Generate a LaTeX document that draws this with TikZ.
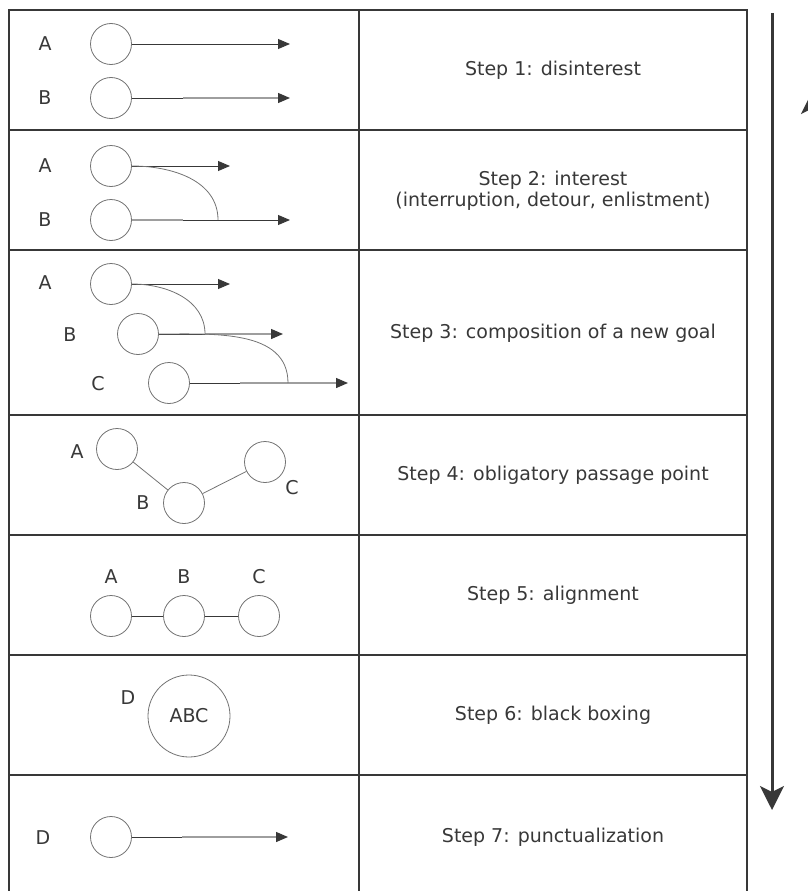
\documentclass[tikz,border=0pt]{standalone}
\usepackage{fontspec}
\setmainfont{DejaVu Sans}
\usepackage{xcolor}
\usepackage{tikz}
\usetikzlibrary{
	positioning,						% Advanced relative positioning
	arrows.meta							% Advanced arrows
}
\definecolor{ink}{gray}{0.22}
\definecolor{rim}{gray}{0.45}
\definecolor{faded}{gray}{0.62}

\begin{document}
\begin{tikzpicture}[x=1pt, y=-1pt]
		\tikzstyle{actor} = [draw=rim, circle, minimum size=41pt, inner sep=0pt, line width=0.8pt]
		\tikzstyle{tag} = [text=ink, font=\fontsize{19}{21}\selectfont, inner sep=0pt, align=center]
		\tikzstyle{track} = [draw=ink, line width=0.9pt]
		\tikzstyle{fadedtrack} = [draw=faded, line width=1.3pt]
		\tikzstyle{tip} = [-{Triangle[length=12pt, width=10pt, color=ink]}]
		\tikzstyle{detour} = [draw=rim, line width=0.8pt]
		\tikzstyle{grid} = [draw=ink, line width=1.3pt]
		\tikzstyle{flow} = [draw=ink, line width=3pt, -{Stealth[length=24pt, width=24pt, inset=6pt]}]
		
		% Page
		\useasboundingbox (0,0) rectangle (808,891);
		\clip (0,0) rectangle (808,891);
		
		% Table
		\draw[grid] (9,891) -- (9,10) -- (747,10) -- (747,891);
		\draw[grid] (359,10) -- (359,891);
		\foreach \ypos in {130, 250, 415, 535, 655, 775}{
			\draw[grid] (9,\ypos) -- (747,\ypos);
		}
		%% Step texts
		\foreach \row/\ypos/\label in {One/70/{Step 1: disinterest}, Two/191/{Step 2: interest\\(interruption, detour, enlistment)}, Three/333/{Step 3: composition of a new goal}, Four/475/{Step 4: obligatory passage point}, Five/595/{Step 5: alignment}, Six/715/{Step 6: black boxing}, Seven/837/{Step 7: punctualization}}{
			\node[tag] at (553,\ypos) (stepText\row) {\label};
		}
		
		% Step 1
		\node[tag] at (45,44) (stepOneTagA) {A};
		\node[actor] at (111,44) (stepOneA) {};
		\coordinate (stepOneEndA) at (290,44);
		\draw[track, tip] (stepOneA) -- (stepOneEndA);
		\node[tag] at (45,98) (stepOneTagB) {B};
		\node[actor] at (111,98) (stepOneB) {};
		\coordinate (stepOneFadeB) at (183,98);
		\coordinate (stepOneEndB) at (290,98);
		\draw[track] (stepOneB) -- (stepOneFadeB);
		\draw[fadedtrack, tip] (stepOneFadeB) -- (stepOneEndB);
		
		% Step 2
		\node[tag] at (45,166) (stepTwoTagA) {A};
		\node[actor] at (111,166) (stepTwoA) {};
		\coordinate (stepTwoEndA) at (230,166);
		\draw[track, tip] (stepTwoA) -- (stepTwoEndA);
		\node[tag] at (45,220) (stepTwoTagB) {B};
		\node[actor] at (111,220) (stepTwoB) {};
		\coordinate (stepTwoFadeB) at (183,220);
		\coordinate (stepTwoEndB) at (290,220);
		\draw[fadedtrack] (stepTwoB) -- (stepTwoFadeB);
		\draw[track, tip] (stepTwoFadeB) -- (stepTwoEndB);
		%% Detour
		\coordinate (stepTwoJoin) at (218,220);
		\draw[detour] (stepTwoA.east) to [out=0, in=90] (stepTwoJoin);
		
		% Step 3
		\node[tag] at (45,283) (stepThreeTagA) {A};
		\node[actor] at (111,284) (stepThreeA) {};
		\coordinate (stepThreeEndA) at (230,284);
		\draw[track, tip] (stepThreeA) -- (stepThreeEndA);
		\node[tag] at (70,335) (stepThreeTagB) {B};
		\node[actor] at (138,334) (stepThreeB) {};
		\coordinate (stepThreeFadeB) at (205,334);
		\coordinate (stepThreeEndB) at (283,334);
		\draw[track] (stepThreeB) -- (stepThreeFadeB);
		\draw[fadedtrack, tip] (stepThreeFadeB) -- (stepThreeEndB);
		\node[tag] at (98,384) (stepThreeTagC) {C};
		\node[actor] at (169,383) (stepThreeC) {};
		\coordinate (stepThreeFadeC) at (240,383);
		\coordinate (stepThreeEndC) at (348,383);
		\draw[track] (stepThreeC) -- (stepThreeFadeC);
		\draw[fadedtrack, tip] (stepThreeFadeC) -- (stepThreeEndC);
		%% Detours
		\coordinate (stepThreeJoinB) at (205,334);
		\coordinate (stepThreeJoinC) at (288,383);
		\draw[detour] (stepThreeA.east) to [out=0, in=90] (stepThreeJoinB);
		\draw[detour] (stepThreeB.east) to [out=0, in=90] (stepThreeJoinC);
		
		% Step 4
		\node[tag] at (77,452) (stepFourTagA) {A};
		\node[actor] at (117,449) (stepFourA) {};
		\node[tag] at (143,503) (stepFourTagB) {B};
		\node[actor] at (184,503) (stepFourB) {};
		\node[tag] at (292,488) (stepFourTagC) {C};
		\node[actor] at (265,462) (stepFourC) {};
		\draw[detour] (stepFourA) -- (stepFourB);
		\draw[detour] (stepFourB) -- (stepFourC);
		
		% Step 5
		\foreach \name/\xpos in {A/111, B/184, C/259}{
			\node[tag] at (\xpos,577) (stepFiveTag\name) {\name};
			\node[actor] at (\xpos,616) (stepFive\name) {};
		}
		\draw[track] (stepFiveA) -- (stepFiveB);
		\draw[track] (stepFiveB) -- (stepFiveC);
		
		% Step 6
		\node[tag] at (128,698) (stepSixTagD) {D};
		\node[actor, minimum size=82pt, text=ink, font=\fontsize{19}{21}\selectfont] at (189,716) (stepSixD) {ABC};
		
		% Step 7
		\node[tag] at (43,838) (stepSevenTagD) {D};
		\node[actor] at (111,837) (stepSevenD) {};
		\coordinate (stepSevenFadeD) at (182,837);
		\coordinate (stepSevenEndD) at (288,837);
		\draw[track] (stepSevenD) -- (stepSevenFadeD);
		\draw[fadedtrack, tip] (stepSevenFadeD) -- (stepSevenEndD);
		
		% Flow arrows
		\coordinate (flowDownTop) at (772,13);
		\coordinate (flowDownEnd) at (772,810);
		\draw[flow] (flowDownTop) -- (flowDownEnd);
		\coordinate (flowUpStart) at (813,891);
		\coordinate (flowUpEnd) at (813,90);
		\draw[flow] (flowUpStart) -- (flowUpEnd);
	\end{tikzpicture}
\end{document}
